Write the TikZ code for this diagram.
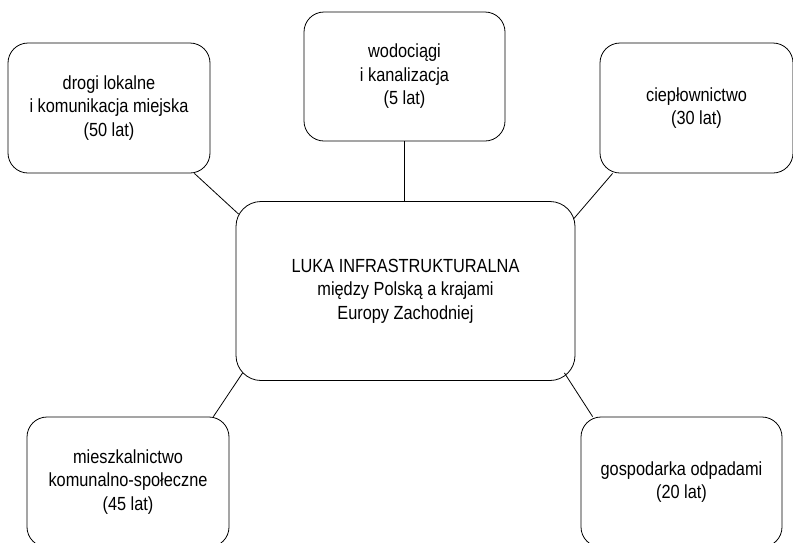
\documentclass[tikz,border=0pt]{standalone}
\usepackage{fontspec}
\setmainfont{Liberation Sans}[FakeStretch=0.86]
\usepackage{tikz}

\begin{document}
\begin{tikzpicture}[x=1pt, y=-1pt,
    areabox/.style={draw, line width=0.8pt, rounded corners=20pt, align=center,
        inner sep=0pt, font=\fontsize{19}{23.5}\selectfont},
    link/.style={draw, line width=0.8pt}]
    \useasboundingbox (0, 0) rectangle (793, 542);

    % central gap
    \node[areabox, rounded corners=25pt, minimum width=339pt, minimum height=179pt] (gap) at (405.5, 291)
        {LUKA INFRASTRUKTURALNA\\między Polską a krajami\\Europy Zachodniej};

    % sectors
    \node[areabox, minimum width=202pt, minimum height=130pt] (roads) at (109, 108)
        {drogi lokalne\\i komunikacja miejska\\(50 lat)};
    \node[areabox, minimum width=201pt, minimum height=129pt] (water) at (404.5, 76.5)
        {wodociągi\\i kanalizacja\\(5 lat)};
    \node[areabox, minimum width=193pt, minimum height=130pt] (heat) at (696.5, 108)
        {ciepłownictwo\\(30 lat)};
    \node[areabox, minimum width=202pt, minimum height=130pt] (housing) at (128, 482)
        {mieszkalnictwo\\komunalno-społeczne\\(45 lat)};
    \node[areabox, minimum width=201pt, minimum height=130pt] (waste) at (681.5, 482)
        {gospodarka odpadami\\(20 lat)};

    % links to the gap
    \draw[link] ([xshift=-16pt]roads.south east) -- ([xshift=3pt, yshift=-13pt]gap.north west);
    \draw[link] (water.south) -- (water.south |- gap.north);
    \draw[link] ([xshift=13pt]heat.south west) -- ([xshift=-2pt, yshift=-18pt]gap.north east);
    \draw[link] ([xshift=-16pt]housing.north east) -- ([xshift=7pt, yshift=8pt]gap.south west);
    \draw[link] ([xshift=12pt]waste.north west) -- ([xshift=-11pt, yshift=8pt]gap.south east);
\end{tikzpicture}
\end{document}
